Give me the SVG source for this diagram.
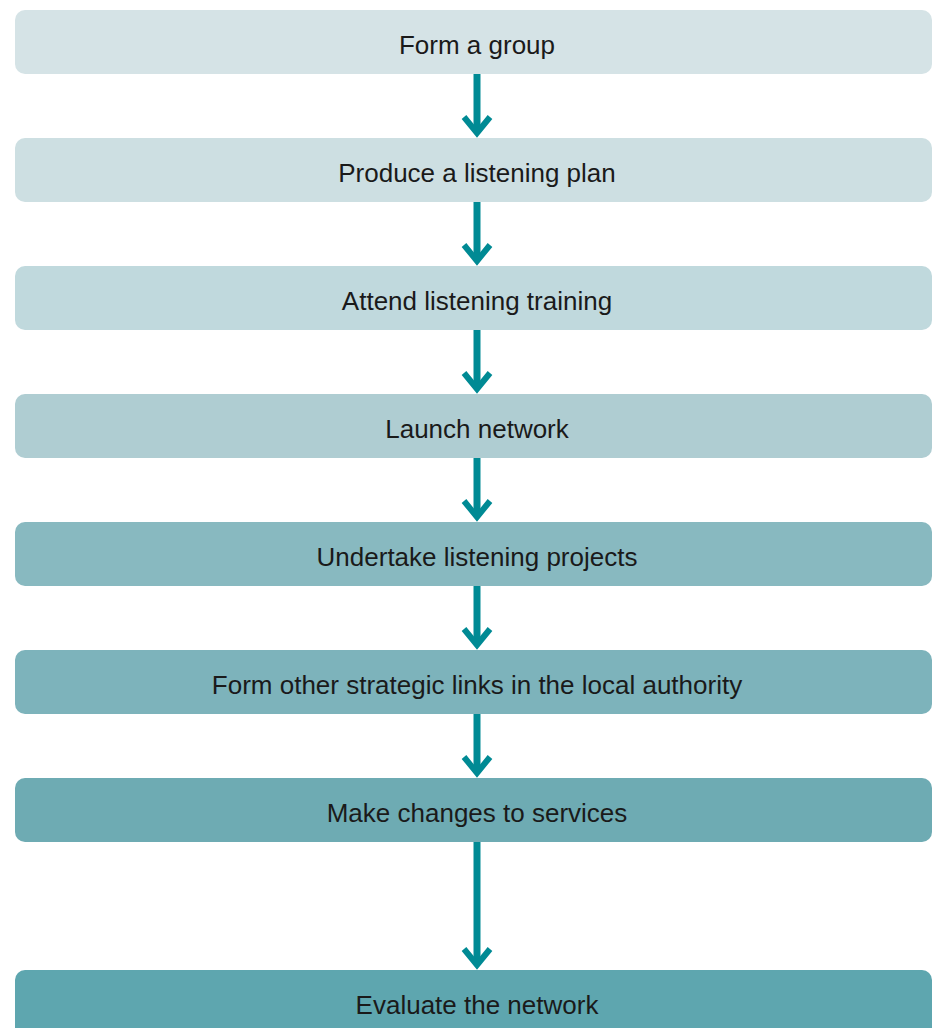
<svg xmlns="http://www.w3.org/2000/svg" width="932" height="1028" viewBox="0 0 932 1028">
<style>
.lbl{font-family:"Liberation Sans","DejaVu Sans",sans-serif;font-size:26px;fill:#1a1a1a;text-anchor:middle}
.ln{stroke:#008a94;stroke-width:7;fill:none}
.hd{stroke:#008a94;stroke-width:6;fill:none;stroke-linejoin:miter;stroke-miterlimit:10}
</style>
<rect width="932" height="1028" fill="#ffffff"/>
<g id="connectors">
<line class="ln" x1="477" y1="74" x2="477" y2="132"/><polyline class="hd" points="464,117 477,133 490,117"/>
<line class="ln" x1="477" y1="202" x2="477" y2="260"/><polyline class="hd" points="464,245 477,261 490,245"/>
<line class="ln" x1="477" y1="330" x2="477" y2="388"/><polyline class="hd" points="464,373 477,389 490,373"/>
<line class="ln" x1="477" y1="458" x2="477" y2="516"/><polyline class="hd" points="464,501 477,517 490,501"/>
<line class="ln" x1="477" y1="586" x2="477" y2="644"/><polyline class="hd" points="464,629 477,645 490,629"/>
<line class="ln" x1="477" y1="714" x2="477" y2="772"/><polyline class="hd" points="464,757 477,773 490,757"/>
<line class="ln" x1="477" y1="842" x2="477" y2="964"/><polyline class="hd" points="464,949 477,965 490,949"/>
</g>
<g id="n1"><rect x="15" y="10" width="917" height="64" rx="10" fill="#d5e3e6"/><text class="lbl" x="477" y="54">Form a group</text></g>
<g id="n2"><rect x="15" y="138" width="917" height="64" rx="10" fill="#cddfe2"/><text class="lbl" x="477" y="182">Produce a listening plan</text></g>
<g id="n3"><rect x="15" y="266" width="917" height="64" rx="10" fill="#c0d9dd"/><text class="lbl" x="477" y="310">Attend listening training</text></g>
<g id="n4"><rect x="15" y="394" width="917" height="64" rx="10" fill="#afcdd2"/><text class="lbl" x="477" y="438">Launch network</text></g>
<g id="n5"><rect x="15" y="522" width="917" height="64" rx="10" fill="#88b9c0"/><text class="lbl" x="477" y="566">Undertake listening projects</text></g>
<g id="n6"><rect x="15" y="650" width="917" height="64" rx="10" fill="#7db3bb"/><text class="lbl" x="477" y="694">Form other strategic links in the local authority</text></g>
<g id="n7"><rect x="15" y="778" width="917" height="64" rx="10" fill="#6eabb3"/><text class="lbl" x="477" y="822">Make changes to services</text></g>
<g id="n8"><rect x="15" y="970" width="917" height="70" rx="10" fill="#5ea6af"/><text class="lbl" x="477" y="1014">Evaluate the network</text></g>
</svg>
